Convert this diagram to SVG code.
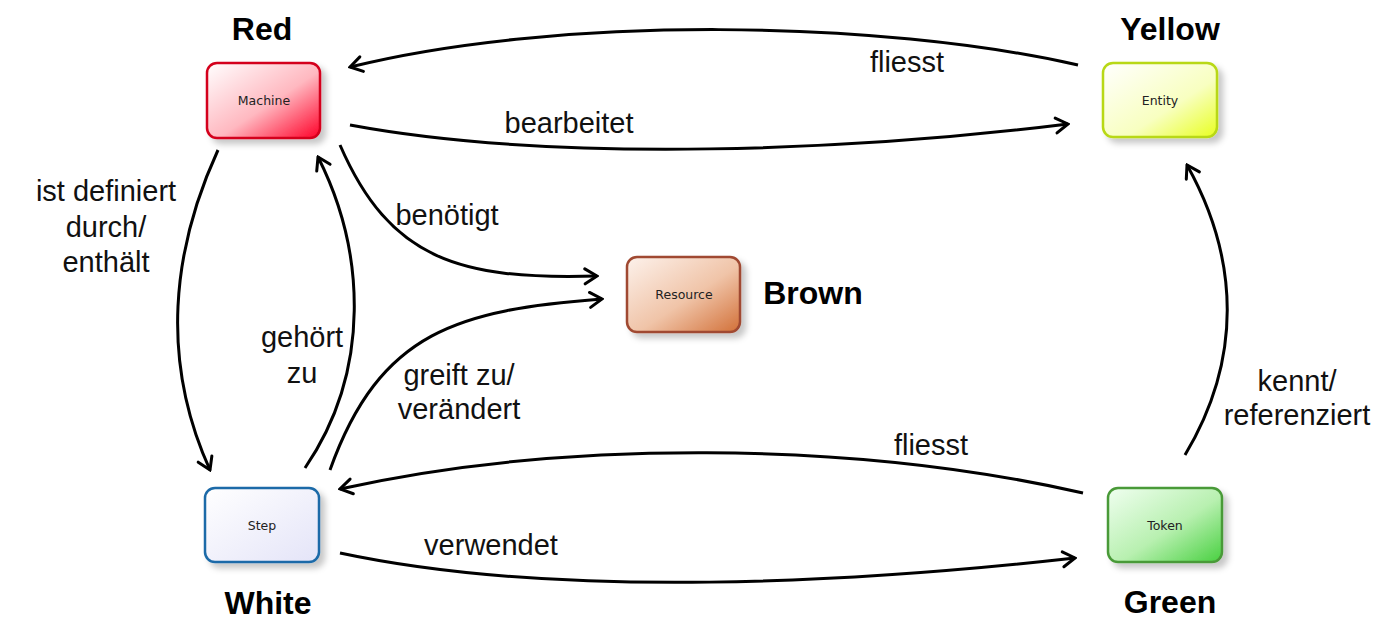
<svg xmlns="http://www.w3.org/2000/svg" width="1384" height="644" viewBox="0 0 1384 644">
<style>
.box{stroke-width:2.5}
.nt{font-family:"DejaVu Sans","Liberation Sans",sans-serif;font-size:12.5px;fill:#222;text-anchor:middle}
.lbl{font-family:"Liberation Sans",Arial,sans-serif;font-size:29px;fill:#111;text-anchor:middle}
.ttl{font-family:"Liberation Sans",Arial,sans-serif;font-size:32px;font-weight:bold;fill:#000;text-anchor:middle}
.edge{fill:none;stroke:#000;stroke-width:3;marker-end:url(#arr)}
</style>
<defs>
<marker id="arr" viewBox="-15 -10 17 20" refX="0" refY="0" markerWidth="17" markerHeight="20" markerUnits="userSpaceOnUse" orient="auto">
<path d="M-12,-7.5 L0,0 L-12,7.5" fill="none" stroke="#000" stroke-width="3" stroke-linecap="round" stroke-linejoin="miter"/>
</marker>
<filter id="sh" x="-20%" y="-20%" width="150%" height="150%">
<feDropShadow dx="5" dy="5" stdDeviation="3" flood-color="#000" flood-opacity="0.22"/>
</filter>
<linearGradient id="gRed" x1="0" y1="0" x2="1" y2="1"><stop offset="0" stop-color="#ffffff"/><stop offset="0.55" stop-color="#ffb8c0"/><stop offset="1" stop-color="#ff0028"/></linearGradient>
<linearGradient id="gYel" x1="0" y1="0" x2="1" y2="1"><stop offset="0" stop-color="#ffffff"/><stop offset="0.6" stop-color="#f8ffc0"/><stop offset="1" stop-color="#e8ff20"/></linearGradient>
<linearGradient id="gBrn" x1="0" y1="0" x2="1" y2="1"><stop offset="0" stop-color="#fdf2ec"/><stop offset="0.55" stop-color="#f0c4a8"/><stop offset="1" stop-color="#d27038"/></linearGradient>
<linearGradient id="gWht" x1="0" y1="0" x2="1" y2="1"><stop offset="0" stop-color="#ffffff"/><stop offset="1" stop-color="#e4e4f8"/></linearGradient>
<linearGradient id="gGrn" x1="0" y1="0" x2="1" y2="1"><stop offset="0" stop-color="#f0fff0"/><stop offset="0.55" stop-color="#b8f0b0"/><stop offset="1" stop-color="#48d040"/></linearGradient>
</defs>
<rect width="1384" height="644" fill="#ffffff"/>

<g id="connectors">
<path class="edge" d="M1078,65 C880,20 560,15 350,67"/>
<path class="edge" d="M350,125 C560,164 860,150 1068,124"/>
<path class="edge" d="M218,150 C172,250 160,360 210,470"/>
<path class="edge" d="M305,468 C372,370 365,250 318,157"/>
<path class="edge" d="M340,145 C390,260 460,280 597,276"/>
<path class="edge" d="M330,470 C380,330 460,310 602,299"/>
<path class="edge" d="M1185,455 C1242,360 1240,260 1187,165"/>
<path class="edge" d="M1083,493 C850,440 560,440 340,489"/>
<path class="edge" d="M340,553 C560,600 860,582 1075,558"/>
</g>

<g id="edge-labels">
<text class="lbl" x="907" y="72">fliesst</text>
<text class="lbl" x="569" y="133">bearbeitet</text>
<text class="lbl" x="106" y="201">ist definiert</text>
<text class="lbl" x="106" y="237">durch/</text>
<text class="lbl" x="106" y="272">enthält</text>
<text class="lbl" x="447" y="225">benötigt</text>
<text class="lbl" x="302" y="347">gehört</text>
<text class="lbl" x="302" y="383">zu</text>
<text class="lbl" x="459" y="385">greift zu/</text>
<text class="lbl" x="459" y="419">verändert</text>
<text class="lbl" x="1297" y="391">kennt/</text>
<text class="lbl" x="1297" y="425">referenziert</text>
<text class="lbl" x="931" y="455">fliesst</text>
<text class="lbl" x="491" y="555">verwendet</text>
</g>

<g id="machine">
<rect class="box" x="207" y="63" width="113" height="75" rx="10" fill="url(#gRed)" stroke="#d4001c" filter="url(#sh)"/>
<text class="nt" x="264" y="105">Machine</text>
<text class="ttl" x="262" y="40">Red</text>
</g>

<g id="entity">
<rect class="box" x="1103" y="63" width="114" height="74" rx="10" fill="url(#gYel)" stroke="#b8d814" filter="url(#sh)"/>
<text class="nt" x="1160" y="105">Entity</text>
<text class="ttl" x="1170" y="40">Yellow</text>
</g>

<g id="resource">
<rect class="box" x="627" y="257" width="113" height="75" rx="10" fill="url(#gBrn)" stroke="#a04a30" filter="url(#sh)"/>
<text class="nt" x="684" y="299">Resource</text>
<text class="ttl" x="813" y="304">Brown</text>
</g>

<g id="step">
<rect class="box" x="205" y="488" width="114" height="74" rx="10" fill="url(#gWht)" stroke="#1a6aa8" filter="url(#sh)"/>
<text class="nt" x="262" y="530">Step</text>
<text class="ttl" x="268" y="614">White</text>
</g>

<g id="token">
<rect class="box" x="1108" y="488" width="114" height="74" rx="10" fill="url(#gGrn)" stroke="#4a9a38" filter="url(#sh)"/>
<text class="nt" x="1165" y="530">Token</text>
<text class="ttl" x="1170" y="613">Green</text>
</g>
</svg>
